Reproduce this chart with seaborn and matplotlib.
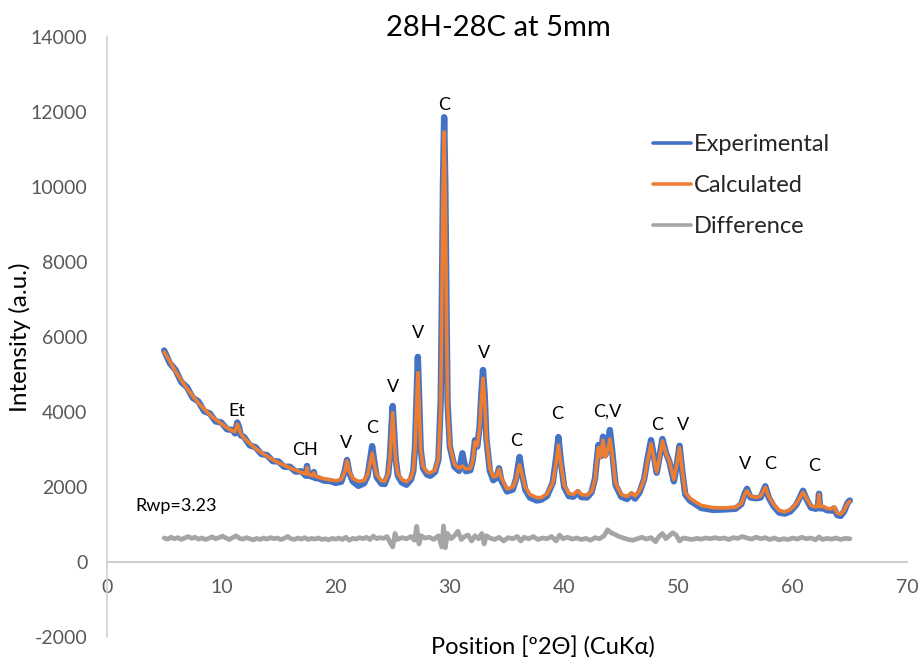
import matplotlib
matplotlib.use("Agg")
import matplotlib.pyplot as plt
import seaborn as sns
import pandas as pd

# --- XRD pattern: 2-theta positions and intensities -------------------------
two_theta = [
    5.0, 5.5, 6.0, 6.5, 7.0, 7.5, 8.0, 8.5, 9.0, 9.5, 10.0, 10.5, 11.0, 11.2,
    11.4, 11.55, 11.7, 12.0, 12.5, 13.0, 13.5, 14.0, 14.5, 15.0, 15.5, 16.0,
    16.5, 17.0, 17.4, 17.5, 17.6, 18.0, 18.1, 18.2, 18.5, 19.0, 19.5, 20.0,
    20.5, 20.8, 21.0, 21.2, 21.5, 22.0, 22.5, 22.8, 23.0, 23.2, 23.4, 23.6,
    24.0, 24.3, 24.6, 24.75, 24.9, 25.0, 25.1, 25.25, 25.45, 25.8, 26.2, 26.6,
    26.8, 26.95, 27.1, 27.2, 27.3, 27.45, 27.65, 28.0, 28.3, 28.7, 29.0, 29.2,
    29.3, 29.4, 29.5, 29.6, 29.7, 29.8, 30.0, 30.4, 30.8, 31.1, 31.4, 31.8,
    32.0, 32.2, 32.4, 32.6, 32.75, 32.9, 33.05, 33.2, 33.5, 33.8, 34.1, 34.3,
    34.5, 35.0, 35.5, 35.8, 36.0, 36.1, 36.3, 36.6, 37.0, 37.6, 38.0, 38.5,
    39.0, 39.3, 39.5, 39.7, 40.0, 40.4, 40.8, 41.2, 41.5, 42.0, 42.4, 42.7,
    43.0, 43.2, 43.4, 43.6, 43.8, 44.0, 44.2, 44.5, 45.0, 45.5, 45.9, 46.2,
    46.6, 47.0, 47.3, 47.6, 47.9, 48.1, 48.3, 48.6, 48.9, 49.2, 49.6, 49.8,
    50.1, 50.35, 50.6, 51.0, 51.5, 52.0, 53.0, 54.0, 55.0, 55.5, 55.8, 56.0,
    56.3, 56.8, 57.2, 57.6, 57.9, 58.3, 58.8, 59.3, 59.8, 60.3, 60.6, 60.9,
    61.2, 61.6, 62.0, 62.2, 62.3, 62.4, 62.7, 63.0, 63.4, 63.6, 63.9, 64.2,
    64.5, 64.8, 65.0,
]

calculated = [
    5600, 5350, 5080, 4850, 4630, 4430, 4240, 4080, 3930, 3800, 3690, 3580,
    3490, 3480, 3680, 3560, 3420, 3300, 3160, 3030, 2920, 2820, 2730, 2650,
    2580, 2510, 2450, 2390, 2350, 2520, 2350, 2300, 2380, 2290, 2260, 2220,
    2190, 2170, 2200, 2400, 2700, 2420, 2230, 2150, 2170, 2330, 2600, 2900,
    2600, 2330, 2170, 2150, 2350, 2750, 3500, 3980, 3500, 2750, 2350, 2200,
    2140, 2250, 2450, 3000, 4300, 5050, 4300, 3000, 2550, 2400, 2380, 2450,
    2750, 4200, 6800, 9800, 11470, 9800, 6800, 4200, 3100, 2600, 2500, 2560,
    2480, 2500, 2700, 3200, 3100, 3550, 4300, 4900, 4300, 3300, 2500, 2270,
    2300, 2480, 2250, 1950, 2000, 2200, 2500, 2590, 2350, 2000, 1800, 1720,
    1720, 1820, 2100, 2650, 3120, 2650, 2050, 1830, 1800, 1900, 1800, 1780,
    1880, 2200, 3050, 2800, 3250, 2800, 2950, 3280, 2900, 2100, 1800, 1750,
    1840, 1760, 1900, 2200, 2700, 3150, 2700, 2400, 2700, 3230, 2900, 2700,
    2200, 2500, 3050, 2400, 1850, 1700, 1600, 1510, 1450, 1440, 1460, 1560,
    1800, 1900, 1760, 1720, 1760, 1990, 1750, 1550, 1380, 1340, 1400, 1550,
    1700, 1860, 1700, 1500, 1470, 1480, 1800, 1480, 1480, 1430, 1420, 1470,
    1300, 1280, 1380, 1560, 1620,
]

experimental = [
    5640, 5300, 5120, 4800, 4660, 4380, 4280, 4020, 3960, 3750, 3720, 3540,
    3520, 3430, 3720, 3600, 3380, 3330, 3110, 3060, 2880, 2850, 2690, 2680,
    2540, 2540, 2410, 2420, 2300, 2560, 2310, 2270, 2400, 2240, 2230, 2170,
    2160, 2110, 2140, 2420, 2720, 2380, 2150, 2030, 2100, 2300, 2680, 3090,
    2650, 2260, 2090, 2080, 2330, 2800, 3650, 4160, 3600, 2780, 2300, 2120,
    2060, 2200, 2420, 3050, 4500, 5470, 4450, 3000, 2500, 2330, 2300, 2400,
    2730, 4300, 7000, 10100, 11860, 10100, 7000, 4250, 3080, 2540, 2430, 2900,
    2420, 2450, 2720, 3250, 3080, 3600, 4450, 5120, 4450, 3280, 2430, 2180,
    2250, 2500, 2180, 1880, 1930, 2220, 2620, 2800, 2380, 1930, 1720, 1640,
    1660, 1760, 2110, 2780, 3330, 2720, 2000, 1760, 1740, 1860, 1730, 1720,
    1860, 2230, 3120, 2820, 3340, 2850, 3050, 3520, 2980, 2050, 1740, 1680,
    1800, 1690, 1860, 2210, 2760, 3250, 2740, 2380, 2720, 3280, 2920, 2680,
    2150, 2480, 3100, 2380, 1800, 1640, 1540, 1440, 1390, 1400, 1420, 1540,
    1830, 1950, 1720, 1700, 1720, 2020, 1720, 1500, 1320, 1290, 1350, 1520,
    1700, 1900, 1680, 1450, 1420, 1440, 1820, 1430, 1430, 1380, 1370, 1430,
    1250, 1230, 1350, 1580, 1640,
]

# Difference curve (experimental - calculated, offset for display)
diff_theta = [
    5.0, 5.3, 5.6, 5.9, 6.2, 6.5, 6.8, 7.1, 7.4, 7.7, 8.0, 8.3, 8.6, 8.9, 9.2,
    9.5, 9.8, 10.1, 10.4, 10.7, 11.0, 11.3, 11.6, 11.9, 12.2, 12.5, 12.8, 13.1,
    13.4, 13.7, 14.0, 14.3, 14.6, 14.9, 15.2, 15.5, 15.8, 16.1, 16.4, 16.7,
    17.0, 17.3, 17.6, 17.9, 18.2, 18.5, 18.8, 19.1, 19.4, 19.7, 20.0, 20.3,
    20.6, 20.9, 21.2, 21.5, 21.8, 22.1, 22.4, 22.7, 23.0, 23.3, 23.6, 23.9,
    24.2, 24.5, 24.8, 25.0, 25.2, 25.4, 25.8, 26.2, 26.6, 26.9, 27.1, 27.3,
    27.5, 27.8, 28.2, 28.6, 29.0, 29.3, 29.45, 29.6, 29.8, 30.1, 30.4, 30.7,
    31.0, 31.3, 31.6, 31.9, 32.2, 32.5, 32.8, 33.0, 33.2, 33.5, 33.9, 34.3,
    34.7, 35.1, 35.5, 35.9, 36.2, 36.5, 36.9, 37.3, 37.7, 38.1, 38.5, 38.9,
    39.3, 39.6, 39.9, 40.3, 40.7, 41.1, 41.5, 41.9, 42.3, 42.7, 43.1, 43.5,
    43.8, 44.1, 44.4, 44.8, 45.2, 45.6, 46.0, 46.4, 46.8, 47.2, 47.6, 48.0,
    48.3, 48.6, 48.9, 49.2, 49.5, 49.8, 50.1, 50.4, 50.8, 51.2, 51.6, 52.0,
    52.4, 52.8, 53.2, 53.6, 54.0, 54.4, 54.8, 55.2, 55.6, 56.0, 56.4, 56.8,
    57.2, 57.6, 58.0, 58.4, 58.8, 59.2, 59.6, 60.0, 60.4, 60.8, 61.2, 61.6,
    62.0, 62.3, 62.6, 63.0, 63.4, 63.8, 64.2, 64.6, 65.0,
]

difference = [
    640, 610, 660, 620, 650, 600, 640, 680, 630, 660, 610, 640, 600, 630, 670,
    620, 650, 690, 640, 600, 650, 700, 630, 610, 650, 620, 590, 630, 600, 640,
    610, 650, 620, 640, 600, 630, 680, 620, 600, 640, 610, 650, 600, 630, 610,
    640, 600, 620, 590, 630, 610, 640, 600, 660, 580, 630, 610, 650, 620, 660,
    600, 690, 620, 650, 630, 680, 500, 400, 760, 600, 650, 620, 680, 580, 950,
    480, 700, 640, 660, 600, 700, 400, 960, 380, 760, 620, 700, 820, 600, 680,
    720, 560, 700, 620, 760, 480, 700, 640, 600, 660, 560, 650, 620, 680, 560,
    660, 620, 680, 600, 640, 620, 680, 560, 720, 620, 660, 610, 640, 600, 630,
    580, 650, 620, 700, 860, 780, 740, 680, 640, 600, 580, 620, 660, 610, 650,
    540, 680, 760, 620, 700, 780, 720, 560, 640, 620, 600, 630, 610, 640, 620,
    650, 620, 640, 600, 650, 630, 680, 640, 610, 660, 620, 650, 600, 640, 590,
    620, 600, 640, 610, 660, 620, 640, 590, 670, 600, 630, 610, 640, 600, 630,
    620,
]

# Phase labels above the reflections
peak_labels = ["Et", "CH", "V", "C", "V", "V", "C", "V", "C", "C", "C,V",
               "C", "V", "V", "C", "C"]
label_theta = [11.4, 17.3, 20.9, 23.2, 25.0, 27.2, 29.5, 33.0, 35.8, 39.4,
               43.8, 48.1, 50.4, 55.8, 58.0, 61.9]
label_height = [4030, 2990, 3170, 3570, 4670, 6110, 12190, 5570, 3230, 3950,
                4000, 3650, 3650, 2610, 2610, 2560]

rwp_text = "Rwp=3.23"
x_ticks = [0, 10, 20, 30, 40, 50, 60, 70]
y_ticks = [-2000, 0, 2000, 4000, 6000, 8000, 10000, 12000, 14000]

# --- styling ----------------------------------------------------------------
sns.set_theme(style="white")
plt.rcParams["font.family"] = ["Lato", "DejaVu Sans"]

BLUE = "#4472C4"
ORANGE = "#ED7D31"
GREY = "#A5A5A5"
AXIS_GREY = "#D0D0D0"
TICK_TXT = "#595959"

fig = plt.figure(figsize=(9.21, 6.61), dpi=100)
ax = fig.add_axes([107 / 921, 24 / 661, 800 / 921, 600 / 661])

pattern = pd.DataFrame({"two_theta": two_theta,
                        "experimental": experimental,
                        "calculated": calculated})
diff_df = pd.DataFrame({"two_theta": diff_theta, "difference": difference})

sns.lineplot(data=diff_df, x="two_theta", y="difference", ax=ax,
             color=GREY, lw=3.4, label="Difference", sort=False)
sns.lineplot(data=pattern, x="two_theta", y="experimental", ax=ax,
             color=BLUE, lw=4.6, label="Experimental", sort=False)
sns.lineplot(data=pattern, x="two_theta", y="calculated", ax=ax,
             color=ORANGE, lw=2.6, label="Calculated", sort=False)

ax.set_xlim(0, 70)
ax.set_ylim(-2000, 14000)
ax.set_xticks(x_ticks)
ax.set_yticks(y_ticks)
ax.set_xticklabels([str(t) for t in x_ticks])
ax.set_yticklabels([str(t) for t in y_ticks])

for side in ("top", "right"):
    ax.spines[side].set_visible(False)
ax.spines["left"].set_color(AXIS_GREY)
ax.spines["left"].set_linewidth(1.2)
ax.spines["bottom"].set_position(("data", 0))
ax.spines["bottom"].set_color(AXIS_GREY)
ax.spines["bottom"].set_linewidth(1.5)

ax.tick_params(axis="both", length=0, labelsize=14, labelcolor=TICK_TXT)
ax.tick_params(axis="x", pad=12)
ax.tick_params(axis="y", pad=14)

ax.set_xlabel("Position [º2Θ] (CuKα)", fontsize=17, color="black")
ax.xaxis.set_label_coords((543 - 107) / 800, (637 - 648) / 600,
                          transform=ax.transAxes)
ax.xaxis.label.set_va("center")
ax.set_ylabel("Intensity (a.u.)", fontsize=17.5, color="black")
ax.yaxis.set_label_coords((20 - 107) / 800, 0.5, transform=ax.transAxes)
ax.yaxis.label.set_va("center")

fig.text(0.5416, 0.957, "28H-28C at 5mm", ha="center", va="center",
         fontsize=21, color="black")

for lab, xt, yt in zip(peak_labels, label_theta, label_height):
    ax.text(xt, yt, lab, ha="center", va="center", fontsize=13, color="black")
ax.text(2.45, 1490, rwp_text, ha="left", va="center", fontsize=13,
        color="black")

handles, labels = ax.get_legend_handles_labels()
order = [labels.index(n) for n in ("Experimental", "Calculated", "Difference")]
leg = ax.legend([handles[i] for i in order], [labels[i] for i in order],
                loc="upper left", bbox_to_anchor=(641 / 921, 1 - 122 / 661),
                bbox_transform=fig.transFigure, frameon=False, fontsize=17,
                handlelength=1.6, handletextpad=0.15, labelspacing=0.85,
                borderpad=0)
for line in leg.get_lines():
    line.set_linewidth(2.6)

fig.savefig("out.png", dpi=100)
